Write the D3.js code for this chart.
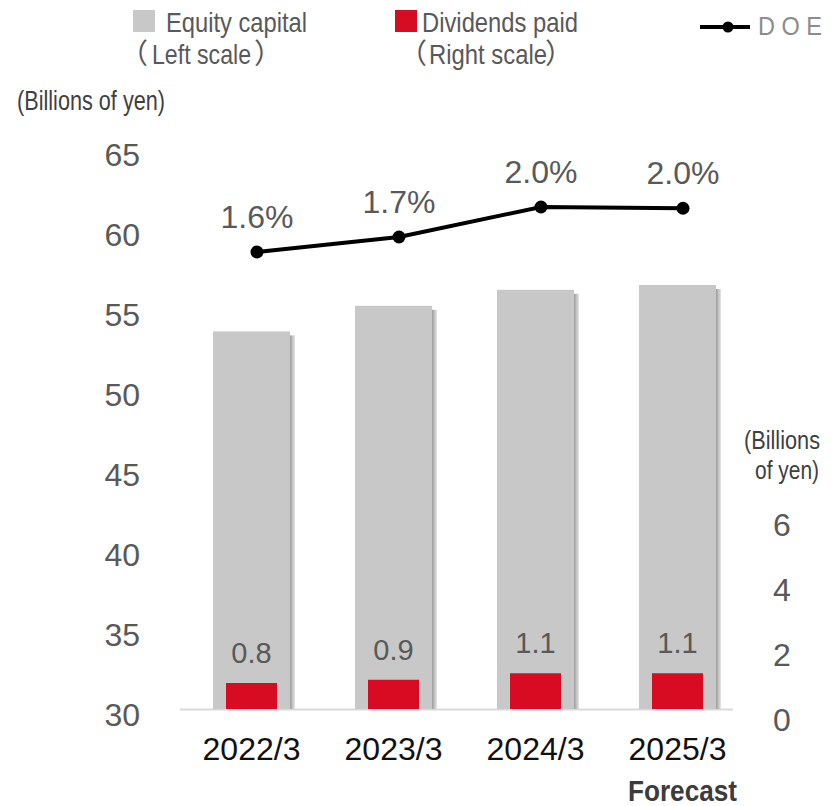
<!DOCTYPE html>
<html>
<head>
<meta charset="utf-8">
<script src="https://cdn.jsdelivr.net/npm/d3@7"></script>
<style>
  body { margin: 0; background: #fff; }
  svg { display: block; }
  .num { font-family: "Liberation Sans", Arial, sans-serif; }
  .nar { font-family: "Liberation Sans", Arial, "Noto Sans CJK JP", sans-serif; }
  .cjk { font-family: "Noto Sans CJK JP", sans-serif; }
</style>
</head>
<body>
<div id="vis"></div>
<script>
var width = 833,
	height = 806;

// data
var years = ["2022/3", "2023/3", "2024/3", "2025/3"];
var equity = [53.6, 55.2, 56.2, 56.5];      // billions of yen, left scale
var dividends = [0.8, 0.9, 1.1, 1.1];       // billions of yen, right scale
var doe = [1.62, 1.74, 1.98, 1.97];         // %
var leftTicks = [30, 35, 40, 45, 50, 55, 60, 65];
var rightTicks = [0, 2, 4, 6];

var svg = d3.select("#vis")
	.append("svg")
	.attr("width", width)
	.attr("height", height);

var x = d3.scaleBand()
	.domain(years)
	.range([180.5, 748.5])
	.paddingInner(0.458)
	.paddingOuter(0.229);

var yLeft = d3.scaleLinear().domain([30, 65]).range([709, 149]);
var yRight = d3.scaleLinear().domain([0, 6]).range([709, 514]);
var yDoe = d3.scaleLinear().domain([1.0, 2.5]).range([329.5, 142]);

var grey = "#c8c8c8",
	red = "#d70b22",
	labelCol = "#595959";

// narrow-looking text: squeeze a normal font into the width seen in the picture
function narrowText(g, tx, ty, str, size, len, col, anchor) {
	return g.append("text")
		.attr("class", "nar")
		.attr("x", tx).attr("y", ty)
		.attr("text-anchor", anchor || "start")
		.attr("textLength", len)
		.attr("lengthAdjust", "spacingAndGlyphs")
		.style("font-size", size + "px")
		.style("fill", col)
		.text(str);
}

// text wrapped in full-width brackets, like （Left scale）, as one text element
function bracketText(g, xOpen, xStr, len, xClose, ty, str, size, col) {
	var t = g.append("text")
		.attr("y", ty)
		.style("font-size", size + "px")
		.style("fill", col);
	t.append("tspan").attr("class", "cjk").attr("x", xOpen).text("（");
	t.append("tspan").attr("class", "nar").attr("x", xStr)
		.attr("textLength", len)
		.attr("lengthAdjust", "spacingAndGlyphs")
		.text(str);
	t.append("tspan").attr("class", "cjk").attr("x", xClose).text("）");
}

// baseline
svg.append("line")
	.attr("x1", 180).attr("x2", 733)
	.attr("y1", 709.5).attr("y2", 709.5)
	.style("stroke", "#d9d9d9")
	.style("stroke-width", 2);

// equity bars with a little shadow on the right
var defs = svg.append("defs");
var grad = defs.append("linearGradient").attr("id", "shade");
grad.append("stop").attr("offset", "0%").attr("stop-color", "#9c9c9c");
grad.append("stop").attr("offset", "100%").attr("stop-color", "#e6e6e6");

svg.selectAll("rect.shadow")
	.data(years)
	.enter()
	.append("rect")
	.attr("class", "shadow")
	.attr("x", function(d) { return x(d) + x.bandwidth(); })
	.attr("y", function(d, i) { return yLeft(equity[i]) + 4; })
	.attr("width", 5)
	.attr("height", function(d, i) { return 709 - yLeft(equity[i]) - 4; })
	.style("fill", "url(#shade)");

svg.selectAll("rect.equity")
	.data(years)
	.enter()
	.append("rect")
	.attr("class", "equity")
	.attr("x", function(d) { return x(d); })
	.attr("y", function(d, i) { return yLeft(equity[i]); })
	.attr("width", x.bandwidth())
	.attr("height", function(d, i) { return 709 - yLeft(equity[i]); })
	.style("fill", grey);

// dividends bars
var redW = 51;
svg.selectAll("rect.div")
	.data(years)
	.enter()
	.append("rect")
	.attr("class", "div")
	.attr("x", function(d) { return x(d) + x.bandwidth() / 2 - redW / 2; })
	.attr("y", function(d, i) { return yRight(dividends[i]); })
	.attr("width", redW)
	.attr("height", function(d, i) { return yRight(0) - yRight(dividends[i]); })
	.style("fill", red);

svg.selectAll("text.divlab")
	.data(years)
	.enter()
	.append("text")
	.attr("class", "divlab num")
	.attr("x", function(d) { return x(d) + x.bandwidth() / 2; })
	.attr("y", function(d, i) { return yRight(dividends[i]) - 20; })
	.attr("text-anchor", "middle")
	.style("font-size", "29px")
	.style("fill", labelCol)
	.text(function(d, i) { return d3.format(".1f")(dividends[i]); });

// DOE line
var px = function(d) { return x(d) + x.bandwidth() / 2 + 5.5; };
var line = d3.line()
	.x(function(d, i) { return px(years[i]); })
	.y(function(d) { return yDoe(d); });

svg.append("path")
	.datum(doe)
	.attr("d", line)
	.style("fill", "none")
	.style("stroke", "#000")
	.style("stroke-width", 4);

svg.selectAll("circle.doe")
	.data(doe)
	.enter()
	.append("circle")
	.attr("class", "doe")
	.attr("cx", function(d, i) { return px(years[i]); })
	.attr("cy", function(d) { return yDoe(d); })
	.attr("r", 6.5)
	.style("fill", "#000");

svg.selectAll("text.doelab")
	.data(doe)
	.enter()
	.append("text")
	.attr("class", "doelab num")
	.attr("x", function(d, i) { return px(years[i]); })
	.attr("y", function(d) { return yDoe(d) - 24; })
	.attr("text-anchor", "middle")
	.style("font-size", "32px")
	.style("fill", labelCol)
	.text(function(d) { return d3.format(".1f")(d) + "%"; });

// axes
var leftAxis = svg.append("g")
	.attr("transform", "translate(140,0)")
	.call(d3.axisLeft(yLeft).tickValues(leftTicks).tickSize(0).tickPadding(0));
leftAxis.select(".domain").remove();
leftAxis.selectAll("text")
	.attr("class", "num")
	.attr("dy", "0.5em")
	.style("font-size", "32px")
	.style("fill", labelCol);

var rightAxis = svg.append("g")
	.attr("transform", "translate(773,0)")
	.call(d3.axisRight(yRight).tickValues(rightTicks).tickFormat(d3.format("d")).tickSize(0).tickPadding(0));
rightAxis.select(".domain").remove();
rightAxis.selectAll("text")
	.attr("class", "num")
	.attr("dy", "0.66em")
	.style("font-size", "32px")
	.style("fill", labelCol);

// category labels
svg.selectAll("text.cat")
	.data(years)
	.enter()
	.append("text")
	.attr("class", "cat num")
	.attr("x", function(d) { return x(d) + x.bandwidth() / 2; })
	.attr("y", 760)
	.attr("text-anchor", "middle")
	.style("font-size", "32px")
	.style("fill", "#111")
	.text(function(d) { return d; });

narrowText(svg, x("2025/3") + x.bandwidth() / 2 + 5, 801, "Forecast", 29, 109, "#3c3c3c", "middle")
	.style("font-weight", "bold");

// unit labels
narrowText(svg, 17, 110, "(Billions of yen)", 27, 148, "#404040");
narrowText(svg, 744, 449, "(Billions", 25, 76, "#404040");
narrowText(svg, 755, 479, "of yen)", 25, 64, "#404040");

// legend
var legend = svg.append("g");
legend.append("rect").attr("x", 133).attr("y", 10).attr("width", 22).attr("height", 22).style("fill", grey);
narrowText(legend, 166, 32, "Equity capital", 28, 141, "#595959");
bracketText(legend, 120, 152, 99, 254, 64, "Left scale", 28, "#595959");

legend.append("rect").attr("x", 395).attr("y", 10).attr("width", 22).attr("height", 22).style("fill", red);
narrowText(legend, 422, 32, "Dividends paid", 28, 156, "#595959");
bracketText(legend, 399, 429, 118, 545, 64, "Right scale", 28, "#595959");

legend.append("line").attr("x1", 700).attr("x2", 750).attr("y1", 27).attr("y2", 27)
	.style("stroke", "#000").style("stroke-width", 4);
legend.append("circle").attr("cx", 728).attr("cy", 27).attr("r", 5.5).style("fill", "#000");
narrowText(legend, 758, 35, "D O E", 26, 64, "#8c8c8c");
</script>
</body>
</html>
